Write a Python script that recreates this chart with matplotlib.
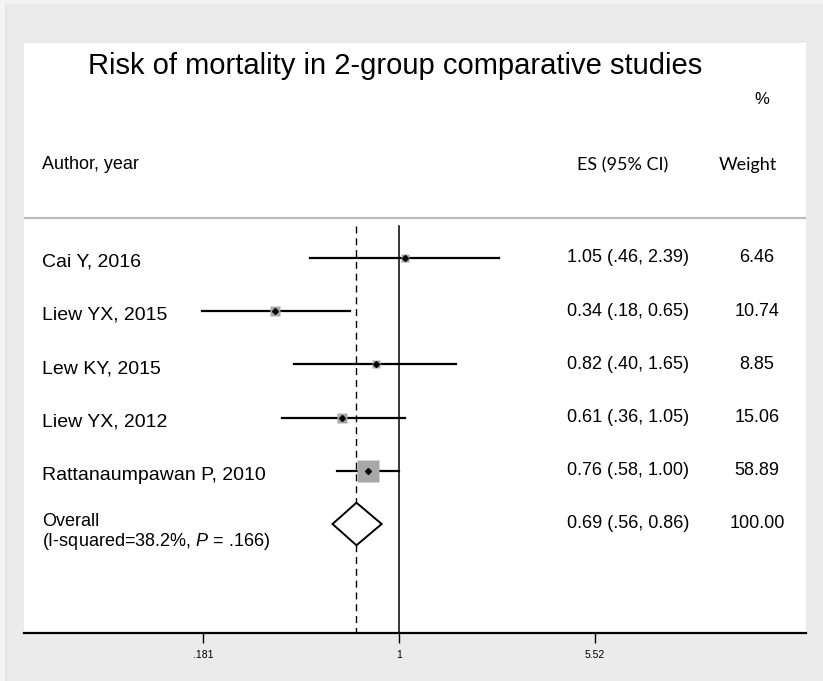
import matplotlib
matplotlib.use("Agg")
import matplotlib.pyplot as plt
import matplotlib.patches as mpatches
import numpy as np

plt.rcParams['font.family'] = ['Liberation Sans', 'DejaVu Sans']
plt.rcParams['mathtext.fontset'] = 'custom'
plt.rcParams['mathtext.rm'] = 'Liberation Sans'
plt.rcParams['mathtext.it'] = 'Liberation Sans:italic'

# study data
authors = ["Cai Y, 2016", "Liew YX, 2015", "Lew KY, 2015", "Liew YX, 2012", "Rattanaumpawan P, 2010"]
es = [1.05, 0.34, 0.82, 0.61, 0.76]
ci_low = [0.46, 0.18, 0.40, 0.36, 0.58]
ci_high = [2.39, 0.65, 1.65, 1.05, 1.00]
weights = [6.46, 10.74, 8.85, 15.06, 58.89]
es_text = ["1.05 (.46, 2.39)", "0.34 (.18, 0.65)", "0.82 (.40, 1.65)",
           "0.61 (.36, 1.05)", "0.76 (.58, 1.00)"]
weight_text = ["6.46", "10.74", "8.85", "15.06", "58.89"]

# pooled estimate
overall_es = 0.69
overall_low = 0.56
overall_high = 0.86
overall_es_text = "0.69 (.56, 0.86)"
overall_weight_text = "100.00"
overall_label = "Overall"
overall_het = r"(I-squared=38.2%, $\mathit{P}$ = .166)"

tick_vals = [0.181, 1, 5.52]
tick_labels = [".181", "1", "5.52"]

W, H = 823, 681
fig = plt.figure(figsize=(W / 100, H / 100), dpi=100, facecolor='#ebebeb')

# light strip at the far left / top of the grey frame
fig.add_artist(mpatches.Rectangle((0, 0), 5 / W, 1, transform=fig.transFigure,
                                  color='#f5f5f5', lw=0))
fig.add_artist(mpatches.Rectangle((5 / W, 0), 2 / W, 1, transform=fig.transFigure,
                                  color='#e3e3e3', lw=0))
fig.add_artist(mpatches.Rectangle((0, 1 - 4 / H), 1, 4 / H, transform=fig.transFigure,
                                  color='#f3f3f3', lw=0))

# white panel: x 24..806 px, y 43..633 px
left, right, top, bottom = 24, 806, 43, 633
ax = fig.add_axes([left / W, 1 - bottom / H, (right - left) / W, (bottom - top) / H])
ax.set_facecolor('white')

# log x scale: 1 at px 399, 264 px per decade
px_per_dec = 264.0
x0 = 10 ** ((left - 399) / px_per_dec)
x1 = 10 ** ((right - 399) / px_per_dec)
ax.set_xscale('log')
ax.set_xlim(x0, x1)

# rows in units: row 0 at px 258, 53.2 px per row
row0, row_h = 258.0, 53.2
def py(p):
    return (p - row0) / row_h
ax.set_ylim(py(bottom), py(top))

rows = np.arange(len(authors))
overall_row = len(authors)

# reference lines
ax.plot([1, 1], [py(226), py(bottom)], color='black', lw=1.1, zorder=1)
ax.plot([overall_es, overall_es], [py(226), py(bottom)], color='black', lw=1.0,
        dashes=(5, 3.5), zorder=1)

# header separator
ax.plot([x0, x1], [py(218), py(218)], color='#bdbdbd', lw=1.6, zorder=1)

# confidence intervals, weight squares, point estimates
for i in rows:
    ax.plot([ci_low[i], ci_high[i]], [i, i], color='black', lw=1.6, zorder=2)
    side_pt = 2.8 * np.sqrt(weights[i]) * 0.72
    ax.plot(es[i], i, marker='s', ms=side_pt, color='#a8a8a8', mec='none', zorder=3)
    ax.plot(es[i], i, marker='D', ms=3.0, color='black', zorder=4)

# overall diamond
half_h = 0.40
diamond = mpatches.Polygon([[overall_low, overall_row], [overall_es, overall_row - half_h],
                            [overall_high, overall_row], [overall_es, overall_row + half_h]],
                           closed=True, facecolor='white', edgecolor='black', lw=1.4, zorder=3)
ax.add_patch(diamond)

# text columns
tr = ax.get_yaxis_transform()
def fx(p):
    return (p - left) / (right - left)

for i in rows:
    ax.text(fx(42), i + 0.08, authors[i], transform=tr, ha='left', va='center', fontsize=14)
    ax.text(fx(567), i, es_text[i], transform=tr, ha='left', va='center', fontsize=13)
    ax.text(fx(757), i, weight_text[i], transform=tr, ha='center', va='center', fontsize=13)

ax.text(fx(42), overall_row - 0.05, overall_label, transform=tr, ha='left', va='center', fontsize=13)
ax.text(fx(42), overall_row + 0.33, overall_het, transform=tr, ha='left', va='center', fontsize=13)
ax.text(fx(567), overall_row, overall_es_text, transform=tr, ha='left', va='center', fontsize=13)
ax.text(fx(757), overall_row, overall_weight_text, transform=tr, ha='center', va='center', fontsize=13)

# headers
ax.text(fx(42), py(165), "Author, year", transform=tr, ha='left', va='center', fontsize=13)
ax.text(fx(623), py(165), "ES (95% CI)", transform=tr, ha='center', va='center',
        fontsize=13, family=['Lato', 'DejaVu Sans'])
ax.text(fx(748), py(165), "Weight", transform=tr, ha='center', va='center',
        fontsize=13, family=['Lato', 'DejaVu Sans'])
ax.text(fx(762), py(100), "%", transform=tr, ha='center', va='center',
        fontsize=12, family=['Liberation Sans Narrow', 'Liberation Sans'])
ax.text(fx(88), py(66), "Risk of mortality in 2-group comparative studies",
        transform=tr, ha='left', va='center', fontsize=21)

# axis styling
for s in ['top', 'left', 'right']:
    ax.spines[s].set_visible(False)
ax.spines['bottom'].set_color('black')
ax.spines['bottom'].set_linewidth(1.6)
ax.set_xticks(tick_vals)
ax.set_xticklabels(tick_labels, family=['Liberation Sans Narrow', 'Liberation Sans'])
ax.xaxis.set_minor_locator(matplotlib.ticker.NullLocator())
ax.tick_params(axis='x', length=7, width=1.0, pad=5, labelsize=7.5, colors='black')
ax.set_yticks([])

fig.savefig("out.png", dpi=100, facecolor=fig.get_facecolor())
